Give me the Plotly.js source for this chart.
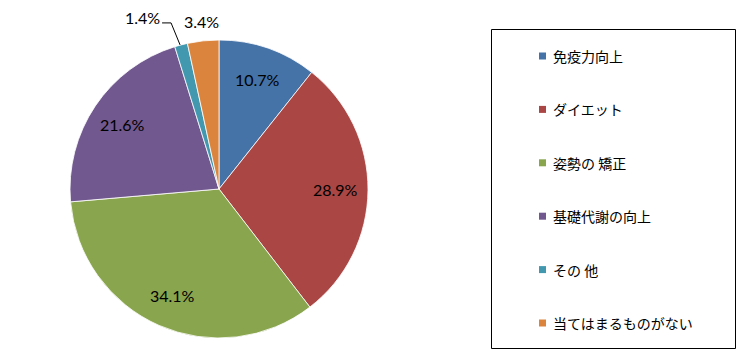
<!DOCTYPE html>
<html>
<head>
<meta charset="utf-8">
<script src="https://cdn.plot.ly/plotly-3.0.1.min.js"></script>
<style>html,body{margin:0;padding:0;background:#fff;}#chart{width:750px;height:360px;}</style>
</head>
<body>
<div id="chart"></div>
<script>
const categories = ['免疫力向上', 'ダイエット', '姿勢の 矯正', '基礎代謝の向上', 'その 他', '当てはまるものがない'];
const values = [10.7, 28.9, 34.1, 21.6, 1.4, 3.4];
const colors = ['#4572A7', '#AA4643', '#89A54E', '#71588F', '#4198AF', '#DB843D'];

const W = 750, H = 360;
const cx = 219, cy = 189, R = 149;
const px = x => x / W;
const py = y => 1 - y / H;

const total = values.reduce((a, b) => a + b, 0);
const annotations = [];
const shapes = [];
let cum = 0;
values.forEach((v, i) => {
  const mid = (cum + v / 2) / total * 2 * Math.PI;
  cum += v;
  const label = v.toFixed(1) + '%';
  const font = {family: 'Lato, "Liberation Sans", sans-serif', size: 16, color: '#000'};
  if (v >= 5) {
    const r = 0.78 * R;
    annotations.push({xref: 'paper', yref: 'paper', x: px(cx + r * Math.sin(mid)), y: py(cy - r * Math.cos(mid)),
      text: label, showarrow: false, font: font, xanchor: 'center', yanchor: 'middle'});
  } else if (v >= 2) {
    const r = 1.13 * R;
    annotations.push({xref: 'paper', yref: 'paper', x: px(cx + r * Math.sin(mid)), y: py(cy - r * Math.cos(mid)),
      text: label, showarrow: false, font: font, xanchor: 'center', yanchor: 'middle'});
  } else {
    const ex = cx + R * Math.sin(mid), ey = cy - R * Math.cos(mid);
    const tx = ex - 10, ty = ey - 22;
    shapes.push({type: 'path', xref: 'paper', yref: 'paper',
      path: 'M' + px(tx - 9) + ',' + py(ty) + ' L' + px(tx) + ',' + py(ty) + ' L' + px(ex - 1) + ',' + py(ey),
      line: {color: '#000', width: 1}});
    annotations.push({xref: 'paper', yref: 'paper', x: px(tx - 9), y: py(ty - 5),
      text: label, showarrow: false, font: font, xanchor: 'right', yanchor: 'middle'});
  }
});

shapes.push({type: 'rect', xref: 'paper', yref: 'paper', x0: px(491.5), x1: px(735.5), y0: py(348.5), y1: py(29.5),
  line: {color: '#000', width: 1}, fillcolor: 'rgba(0,0,0,0)'});
categories.forEach((c, i) => {
  const yy = 56 + i * 53.4;
  shapes.push({type: 'rect', xref: 'paper', yref: 'paper', x0: px(539), x1: px(546), y0: py(yy + 3.5), y1: py(yy - 3.5),
    line: {width: 0}, fillcolor: colors[i]});
  annotations.push({xref: 'paper', yref: 'paper', x: px(551), y: py(yy), xanchor: 'left', yanchor: 'middle',
    text: c, showarrow: false, font: {family: '"Noto Sans CJK JP", sans-serif', size: 14, color: '#000'}});
});

const trace = {
  type: 'pie', values: values, labels: categories, sort: false, direction: 'clockwise', rotation: 0,
  textinfo: 'none', hoverinfo: 'label+percent', showlegend: false,
  marker: {colors: colors, line: {color: '#ffffff', width: 0.8}},
  domain: {x: [px(cx - R), px(cx + R)], y: [py(cy + R), py(cy - R)]}
};

Plotly.newPlot('chart', [trace], {
  width: W, height: H, margin: {l: 0, r: 0, t: 0, b: 0},
  paper_bgcolor: '#fff', showlegend: false, shapes: shapes, annotations: annotations
}, {displayModeBar: false, staticPlot: true});
</script>
</body>
</html>
